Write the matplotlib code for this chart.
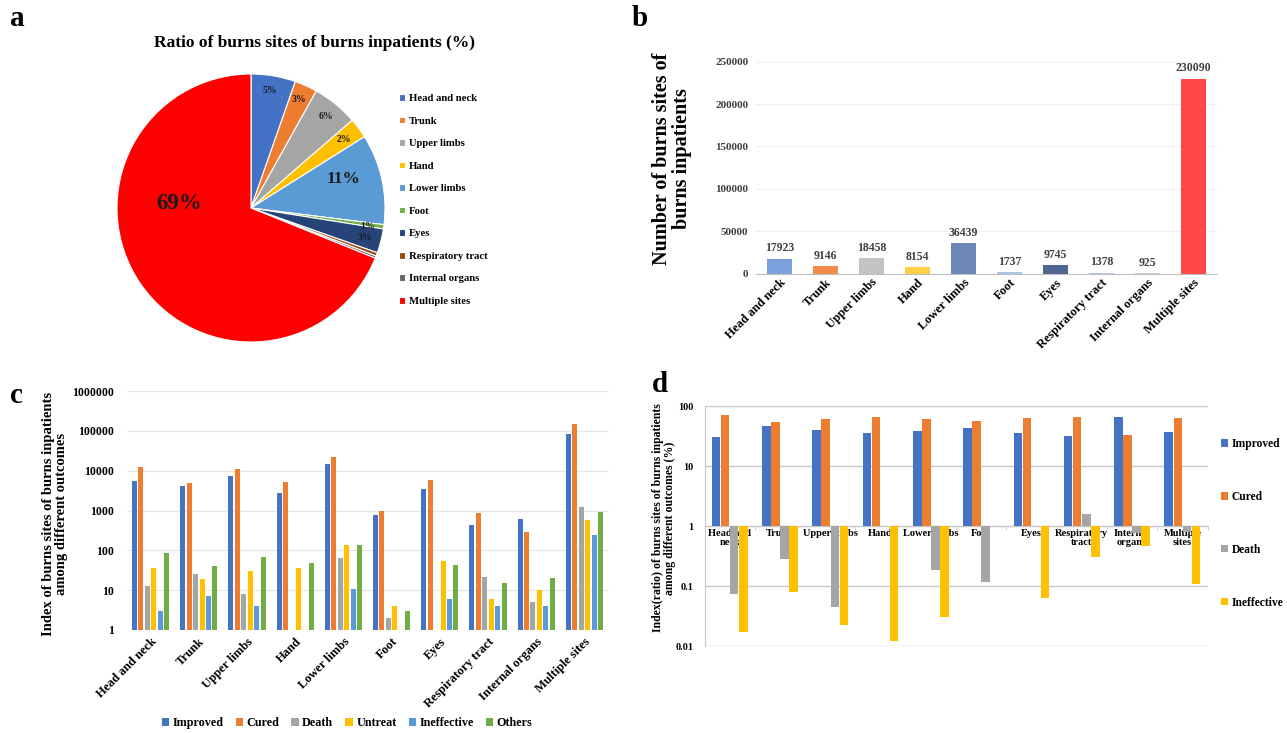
import matplotlib
matplotlib.use('Agg')
import matplotlib.pyplot as plt
import numpy as np
from matplotlib.ticker import FixedLocator, NullLocator, FixedFormatter

plt.rcParams['font.family'] = ['Liberation Serif', 'DejaVu Serif']
plt.rcParams['font.weight'] = 'bold'

# ---------------- data ----------------
sites = ['Head and neck', 'Trunk', 'Upper limbs', 'Hand', 'Lower limbs', 'Foot', 'Eyes',
         'Respiratory tract', 'Internal organs', 'Multiple sites']
sites_d = ['Head and\nneck', 'Trunk', 'Upper limbs', 'Hand', 'Lower limbs', 'Foot', 'Eyes',
           'Respiratory\ntract', 'Internal\norgans', 'Multiple\nsites']
site_counts = [17923, 9146, 18458, 8154, 36439, 1737, 9745, 1378, 925, 230090]
pie_labels = ['5%', '3%', '6%', '2%', '11%', '1%', '3%', '', '', '69%']

outcomes_c = ['Improved', 'Cured', 'Death', 'Untreat', 'Ineffective', 'Others']
improved_c = [5500, 4200, 7400, 2800, 14500, 770, 3500, 430, 600, 82000]
cured_c = [12300, 4800, 10800, 5200, 21500, 960, 6000, 880, 295, 148000]
death_c = [13, 25, 8, 0, 65, 2, 0, 22, 5, 1230]
untreat_c = [37, 19, 30, 35, 135, 4, 54, 6, 10, 580]
ineffective_c = [3, 7, 4, 0, 11, 0, 6, 4, 4, 245]
others_c = [84, 41, 68, 49, 135, 3, 44, 15, 20, 900]

outcomes_d = ['Improved', 'Cured', 'Death', 'Ineffective']
improved_d = [31, 46, 40, 35, 39, 43.6, 36, 31.6, 65, 37]
cured_d = [70, 54, 60, 65, 60, 56, 63, 66, 33, 63]
death_d = [0.074, 0.28, 0.044, 0, 0.185, 0.117, 0, 1.6, 0.75, 0.78]
ineffective_d = [0.017, 0.078, 0.022, 0.0123, 0.031, 0, 0.062, 0.3, 0.46, 0.11]

# ---------------- styles ----------------
pie_colors = ['#4472C4', '#ED7D31', '#A5A5A5', '#FFC000', '#5B9BD5', '#70AD47',
              '#264478', '#9E480E', '#636363', '#FF0000']
bar_colors_b = ['#7CA0DC', '#F28B4A', '#C3C3C3', '#FFCF45', '#6C86B8', '#A9C4E8',
                '#4E6592', '#B4C7E7', '#D0D0D0', '#FF4747']
colors_c = ['#4472C4', '#ED7D31', '#A5A5A5', '#FFC000', '#5B9BD5', '#70AD47']
colors_d = ['#4472C4', '#ED7D31', '#A5A5A5', '#FFC000']

W, H = 1287, 733
fig = plt.figure(figsize=(W / 100, H / 100), dpi=100)


def axes_px(x0, y0, x1, y1):
    return fig.add_axes([x0 / W, 1 - y1 / H, (x1 - x0) / W, (y1 - y0) / H])


# panel letters
for lab, (px, py) in zip('abcd', [(10, 26), (632, 26), (10, 403), (652, 392)]):
    fig.text(px / W, 1 - py / H, lab, fontsize=21, fontweight='bold', va='baseline')

# ---------------- panel a: pie ----------------
axa = axes_px(117, 74, 385, 342)
wedges, _ = axa.pie(site_counts, colors=pie_colors, startangle=90, counterclock=False,
                    wedgeprops=dict(edgecolor='white', linewidth=0.8), radius=1)
axa.set_aspect('auto')
axa.set_xlim(-1, 1)
axa.set_ylim(-1, 1)
label_pos = [(0.14, 0.88), (0.36, 0.81), (0.56, 0.68), (0.69, 0.51), (0.69, 0.22),
             (0.87, -0.14), (0.85, -0.22), None, None, (-0.54, 0.03)]
label_size = [7, 7, 7, 7, 12.5, 7, 7, 7, 7, 16.5]
for lab, pos, sz in zip(pie_labels, label_pos, label_size):
    if lab and pos:
        axa.text(pos[0], pos[1], lab, ha='center', va='center', fontsize=sz,
                 fontweight='bold', color='#1a1a1a')
fig.text(314 / W, 1 - 43 / H, 'Ratio of burns sites of burns inpatients (%)', ha='center',
         va='center', fontsize=12.5, fontweight='bold')
fig.legend(wedges, sites, loc='upper left', bbox_to_anchor=(399 / W, 1 - 94 / H),
           frameon=False, fontsize=7.7, handlelength=0.6, handleheight=0.6,
           handletextpad=0.3, labelspacing=1.25, borderpad=0, borderaxespad=0)

# ---------------- panel b: bars ----------------
axb = axes_px(756.5, 61.7, 1216.5, 273.7)
xb = np.arange(len(sites))
bars = axb.bar(xb, site_counts, width=0.55, color=bar_colors_b)
axb.set_xlim(-0.5, len(sites) - 0.5)
axb.set_ylim(0, 250000)
axb.set_yticks(np.arange(0, 250001, 50000))
axb.yaxis.grid(True, color='#EFEFEF', linewidth=0.8)
axb.set_axisbelow(True)
for s in ['top', 'right', 'left']:
    axb.spines[s].set_visible(False)
axb.spines['bottom'].set_color('#BFBFBF')
axb.tick_params(axis='y', length=0, labelsize=8, labelcolor='#404040', pad=6)
axb.tick_params(axis='x', length=0, pad=2)
axb.set_xticks(xb)
axb.set_xticklabels(sites, rotation=45, ha='right', rotation_mode='anchor', fontsize=9)
for rect, v in zip(bars, site_counts):
    axb.annotate(str(v), (rect.get_x() + rect.get_width() / 2, v), xytext=(0, 3),
                 textcoords='offset points', ha='center', va='bottom', fontsize=8.5,
                 fontweight='bold', color='#404040')
fig.text(672 / W, 1 - 159 / H, 'Number of burns sites of\nburns inpatients', rotation=90,
         ha='center', va='center', fontsize=14.5, fontweight='bold', linespacing=0.95)

# ---------------- panel c: grouped log bars ----------------
axc = axes_px(126.5, 391, 608.5, 630)
series_c = [improved_c, cured_c, death_c, untreat_c, ineffective_c, others_c]
nc = len(series_c)
slot = 0.134
bw = 0.104
xc = np.arange(len(sites))
for i, (name, vals, col) in enumerate(zip(outcomes_c, series_c, colors_c)):
    v = np.array(vals, dtype=float)
    v[v <= 0] = np.nan
    axc.bar(xc + (i - (nc - 1) / 2) * slot, v - 1, bottom=1, width=bw, color=col, label=name)
axc.set_yscale('log')
axc.set_ylim(1, 1e6)
axc.set_xlim(-0.5, len(sites) - 0.5)
axc.yaxis.set_major_locator(FixedLocator([10 ** k for k in range(7)]))
axc.yaxis.set_major_formatter(FixedFormatter([str(10 ** k) for k in range(7)]))
axc.yaxis.set_minor_locator(NullLocator())
axc.yaxis.grid(True, color='#E6E6E6', linewidth=0.9)
axc.set_axisbelow(True)
for s in ['top', 'right', 'left', 'bottom']:
    axc.spines[s].set_visible(False)
axc.tick_params(axis='y', length=0, labelsize=8.5, pad=9)
axc.set_xticks(xc)
axc.set_xticklabels(sites, rotation=45, ha='right', rotation_mode='anchor', fontsize=9)
axc.tick_params(axis='x', length=0, pad=4)
fig.text(55 / W, 1 - 514 / H, 'Index of burns sites of burns inpatients\namong different outcomes',
         rotation=90, ha='center', va='center', fontsize=10.5, fontweight='bold', linespacing=1.0)
axc.legend(loc='center', bbox_to_anchor=(347 / W, 1 - 723 / H), bbox_transform=fig.transFigure,
           ncol=6, frameon=False, fontsize=8.7, handlelength=0.6, handleheight=0.6,
           handletextpad=0.3, columnspacing=1.0, borderpad=0)

# ---------------- panel d: grouped log bars around 1 ----------------
axd = axes_px(704.5, 406, 1207.5, 646)
series_d = [improved_d, cured_d, death_d, ineffective_d]
nd = len(series_d)
slotd = 0.18
bwd = 0.17
for i, (name, vals, col) in enumerate(zip(outcomes_d, series_d, colors_d)):
    v = np.array(vals, dtype=float)
    v[v <= 0] = np.nan
    axd.bar(xc + (i - (nd - 1) / 2) * slotd, v - 1, bottom=1, width=bwd,
            color=col, label=name, zorder=2)
axd.set_yscale('log')
axd.set_ylim(0.01, 100)
axd.set_xlim(-0.5, len(sites) - 0.5)
axd.yaxis.set_major_locator(FixedLocator([0.01, 0.1, 1, 10, 100]))
axd.yaxis.set_major_formatter(FixedFormatter(['0.01', '0.1', '1', '10', '100']))
axd.yaxis.set_minor_locator(NullLocator())
axd.yaxis.grid(True, color='#C8C8C8', linewidth=1.0, zorder=0)
axd.set_axisbelow(True)
for s in ['top', 'right']:
    axd.spines[s].set_visible(False)
axd.spines['left'].set_color('#C8C8C8')
axd.spines['bottom'].set_position(('data', 1))
axd.spines['bottom'].set_color('#C8C8C8')
axd.spines['bottom'].set_zorder(1)
axd.tick_params(axis='y', length=0, labelsize=7.3, pad=8)
axd.set_xticks(xc)
axd.set_xticklabels(sites_d, fontsize=7.5, linespacing=1.1)
axd.tick_params(axis='x', which='major', length=0, pad=2)
axd.xaxis.set_minor_locator(FixedLocator(np.arange(-0.5, len(sites), 1.0)))
axd.tick_params(axis='x', which='minor', length=3, color='#C8C8C8', direction='out')
for t in axd.get_xticklabels():
    t.set_zorder(5)
fig.text(664 / W, 1 - 518 / H,
         'Index(ratio) of burns sites of burns inpatients\namong different outcomes (%)',
         rotation=90, ha='center', va='center', fontsize=8.5, fontweight='bold', linespacing=1.0)
axd.legend(loc='upper left', bbox_to_anchor=(1221 / W, 1 - 438 / H), bbox_transform=fig.transFigure,
           frameon=False, fontsize=8.3, handlelength=0.6, handleheight=0.6, handletextpad=0.3,
           labelspacing=3.55, borderpad=0, borderaxespad=0)

fig.savefig('out.png', dpi=100, facecolor='white')
